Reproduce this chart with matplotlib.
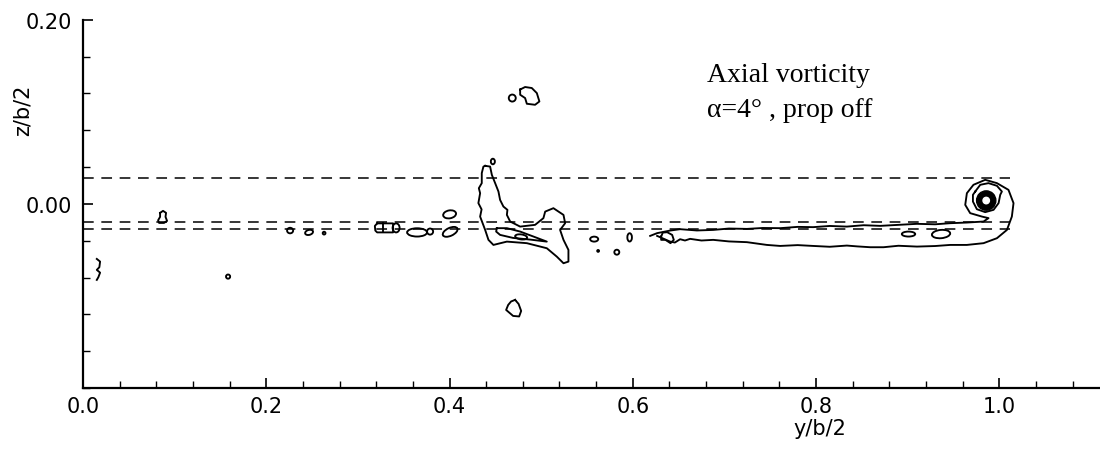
import numpy as np
import matplotlib.pyplot as plt
from matplotlib.patches import Ellipse
from matplotlib.ticker import MultipleLocator

# dashed reference lines (z/b/2) and how far they run in y/b/2
dash_levels = [0.028, -0.020, -0.0275]
dash_end = 1.012

# big contour around the nacelle / wing junction
central_y = [0.4389, 0.4443, 0.4462, 0.4498, 0.4534, 0.4552, 0.4588, 0.4632, 0.4626, 0.4662,
             0.4771, 0.4934, 0.5025, 0.5044, 0.5134, 0.5244, 0.5262, 0.5207, 0.5244, 0.5298,
             0.5298, 0.5244, 0.5171, 0.5062, 0.4844, 0.4626, 0.4479, 0.4425, 0.4389, 0.4334,
             0.4350, 0.4315, 0.4334, 0.4320, 0.4352, 0.4352, 0.4370, 0.4389]
central_z = [0.0413, 0.0405, 0.0315, 0.0225, 0.0134, 0.0043, -0.0029, -0.0065, -0.0120, -0.0192,
             -0.0247, -0.0228, -0.0155, -0.0084, -0.0047, -0.0120, -0.0210, -0.0283, -0.0391, -0.0500,
             -0.0627, -0.0645, -0.0573, -0.0482, -0.0427, -0.0410, -0.0446, -0.0391, -0.0283, -0.0138,
             -0.0060, 0.0008, 0.0116, 0.0170, 0.0225, 0.0334, 0.0405, 0.0413]

# long inner loop inside the junction contour
inner_y = [0.4516, 0.4626, 0.4771, 0.4916, 0.5062, 0.4880, 0.4694, 0.4552, 0.4509, 0.4516]
inner_z = [-0.0264, -0.0264, -0.0301, -0.0355, -0.0410, -0.0388, -0.0370, -0.0337, -0.0301, -0.0264]

# upper blob near z/b/2 = 0.12
top_y = [0.4771, 0.4825, 0.4898, 0.4953, 0.4981, 0.4934, 0.4844, 0.4825, 0.4771, 0.4771]
top_z = [0.1242, 0.1269, 0.1258, 0.1203, 0.1112, 0.1076, 0.1087, 0.1149, 0.1185, 0.1242]

# lower droplet near z/b/2 = -0.11
drop_y = [0.4716, 0.4754, 0.4782, 0.4760, 0.4694, 0.4618, 0.4640, 0.4672, 0.4716]
drop_z = [-0.1043, -0.1087, -0.1163, -0.1223, -0.1217, -0.1152, -0.1098, -0.1060, -0.1043]

# bell shaped blob at y/b/2 = 0.087
bell_y = [0.0841, 0.0873, 0.0906, 0.0900, 0.0917, 0.0884, 0.0830, 0.0819, 0.0841, 0.0841]
bell_z = [-0.0098, -0.0076, -0.0098, -0.0141, -0.0185, -0.0207, -0.0207, -0.0179, -0.0141, -0.0098]

# squiggle close to the root
squig_y = [0.0150, 0.0186, 0.0178, 0.0150, 0.0186, 0.0167, 0.0150]
squig_z = [-0.0598, -0.0627, -0.0688, -0.0717, -0.0747, -0.0797, -0.0826]

# capsule at y/b/2 = 0.33
caps_y = [0.3210, 0.3384, 0.3384, 0.3210, 0.3190, 0.3185, 0.3210]
caps_z = [-0.0212, -0.0212, -0.0310, -0.0310, -0.0290, -0.0240, -0.0212]
caps_bar_y = [0.3279, 0.3279]
caps_bar_z = [-0.0212, -0.0310]

# wing tip vortex wake, one closed contour rolled up at the tip
wake_y = [0.6190, 0.6266, 0.6408, 0.6517, 0.6700, 0.6878, 0.7050, 0.7246, 0.7420, 0.7609, 0.7800,
          0.7969, 0.8150, 0.8337, 0.8520, 0.8701, 0.8900, 0.9102, 0.9300, 0.9465, 0.9647, 0.9829,
          0.9883, 0.9811, 0.9683, 0.9629, 0.9647, 0.9719, 0.9847, 0.9975, 1.0101, 1.0156, 1.0138,
          1.0084, 0.9975, 0.9829, 0.9647, 0.9465, 0.9300, 0.9102, 0.8900, 0.8737, 0.8592, 0.8450,
          0.8337, 0.8150, 0.7969, 0.7800, 0.7609, 0.7464, 0.7246, 0.7050, 0.6878, 0.6750, 0.6626,
          0.6570, 0.6517, 0.6460, 0.6408, 0.6266]
wake_z = [-0.0348, -0.0318, -0.0290, -0.0275, -0.0289, -0.0283, -0.0268, -0.0272, -0.0262, -0.0264, -0.0250,
          -0.0253, -0.0240, -0.0247, -0.0232, -0.0239, -0.0228, -0.0217, -0.0222, -0.0210, -0.0203, -0.0192,
          -0.0155, -0.0138, -0.0101, -0.0011, 0.0116, 0.0207, 0.0261, 0.0225, 0.0152, 0.0008, -0.0138,
          -0.0283, -0.0373, -0.0427, -0.0446, -0.0446, -0.0458, -0.0464, -0.0455, -0.0471, -0.0471, -0.0462,
          -0.0453, -0.0466, -0.0457, -0.0448, -0.0457, -0.0446, -0.0416, -0.0408, -0.0391, -0.0398, -0.0380,
          -0.0398, -0.0384, -0.0420, -0.0410, -0.0348]

# loop around the vortex core
core_loop_y = [0.9738, 0.9793, 0.9883, 0.9975, 1.0029, 1.0011, 0.9993, 0.9938, 0.9847, 0.9756, 0.9713, 0.9713, 0.9738]
core_loop_z = [0.0134, 0.0207, 0.0225, 0.0196, 0.0134, 0.0098, 0.0008, -0.0065, -0.0090, -0.0058, 0.0025, 0.0098, 0.0134]

# curl where the wake starts
curl_y = [0.6310, 0.6328, 0.6376, 0.6430, 0.6448, 0.6412, 0.6357, 0.6310, 0.6310]
curl_z = [-0.0355, -0.0312, -0.0308, -0.0337, -0.0391, -0.0427, -0.0391, -0.0391, -0.0355]

# small closed contours: centre y, centre z, width, height, tilt
blob_y = [0.1583, 0.2260, 0.2467, 0.2631, 0.3417, 0.3646, 0.3788, 0.4001, 0.4007,
          0.4685, 0.4473, 0.4782, 0.5579, 0.5622, 0.5826, 0.5966, 0.9010, 0.9365]
blob_z = [-0.0790, -0.0290, -0.0310, -0.0318, -0.0261, -0.0310, -0.0301, -0.0114, -0.0304,
          0.1149, 0.0460, -0.0359, -0.0383, -0.0511, -0.0525, -0.0364, -0.0328, -0.0328]
blob_w = [0.0045, 0.0066, 0.0088, 0.0030, 0.0076, 0.0218, 0.0066, 0.0142, 0.0174,
          0.0076, 0.0044, 0.0132, 0.0088, 0.0020, 0.0054, 0.0050, 0.0146, 0.0200]
blob_h = [0.0045, 0.0060, 0.0054, 0.0030, 0.0098, 0.0090, 0.0066, 0.0086, 0.0086,
          0.0076, 0.0060, 0.0054, 0.0054, 0.0020, 0.0054, 0.0090, 0.0054, 0.0090]
blob_tilt = [0, 0, 15, 0, 0, 0, 0, 10, 25,
             0, 0, -8, 0, 0, 0, 0, 0, 5]

# vortex core (filled ring)
core_y = 0.9858
core_z = 0.0036
core_d = 0.0210
core_hole = 0.0070

x_ticks = [0.0, 0.2, 0.4, 0.6, 0.8, 1.0]
x_ticklabels = ['0.0', '0.2', '0.4', '0.6', '0.8', '1.0']
y_ticks = [0.0, 0.2]
y_ticklabels = ['0.00', '0.20']

fig = plt.figure(figsize=(11, 4.56), dpi=100)
ax = fig.add_axes([0.0755, 0.1469, 0.9245, 0.8077])

lw = 1.35
for z in dash_levels:
    ax.plot([0, dash_end], [z, z], color='black', lw=1.1, dashes=(7, 5))

shapes = [(central_y, central_z), (inner_y, inner_z), (top_y, top_z), (drop_y, drop_z),
          (bell_y, bell_z), (squig_y, squig_z), (caps_y, caps_z), (caps_bar_y, caps_bar_z),
          (wake_y, wake_z), (core_loop_y, core_loop_z), (curl_y, curl_z)]
for sy, sz in shapes:
    ax.plot(sy, sz, color='black', lw=lw)

for i in range(len(blob_y)):
    ax.add_patch(Ellipse((blob_y[i], blob_z[i]), blob_w[i], blob_h[i], angle=blob_tilt[i],
                         fill=False, edgecolor='black', lw=lw))

ax.add_patch(Ellipse((core_y, core_z), core_d, core_d, facecolor='black', edgecolor='black'))
ax.add_patch(Ellipse((core_y, core_z), core_hole, core_hole, facecolor='white', edgecolor='white'))

# texte
ax.text(0.681, 0.1329, 'Axial vorticity', family='Liberation Serif', fontsize=20, va='baseline')
ax.text(0.681, 0.0949, 'α=4° , prop off', family='Liberation Serif', fontsize=20, va='baseline')

# axes
ax.set_xlim(0, 1.11)
ax.set_ylim(-0.2, 0.2)
ax.spines['top'].set_visible(False)
ax.spines['right'].set_visible(False)
ax.spines['left'].set_linewidth(1.6)
ax.spines['bottom'].set_linewidth(1.6)
ax.set_xticks(x_ticks)
ax.set_xticklabels(x_ticklabels, family='DejaVu Sans', fontsize=15)
ax.set_yticks(y_ticks)
ax.set_yticklabels(y_ticklabels, family='DejaVu Sans', fontsize=15)
ax.xaxis.set_minor_locator(MultipleLocator(0.04))
ax.yaxis.set_minor_locator(MultipleLocator(0.04))
ax.tick_params(which='major', direction='in', length=7, width=1.2)
ax.tick_params(which='minor', direction='in', length=5, width=1.0)
ax.tick_params(axis='x', pad=6)
ax.tick_params(axis='y', pad=8)

ax.set_xlabel('y/b/2', family='DejaVu Sans', fontsize=15)
ax.set_ylabel('z/b/2', family='DejaVu Sans', fontsize=15)
ax.xaxis.set_label_coords(0.7247, -0.082)
ax.yaxis.set_label_coords(-0.050, 0.7575)

fig.savefig('out.png', dpi=100)
